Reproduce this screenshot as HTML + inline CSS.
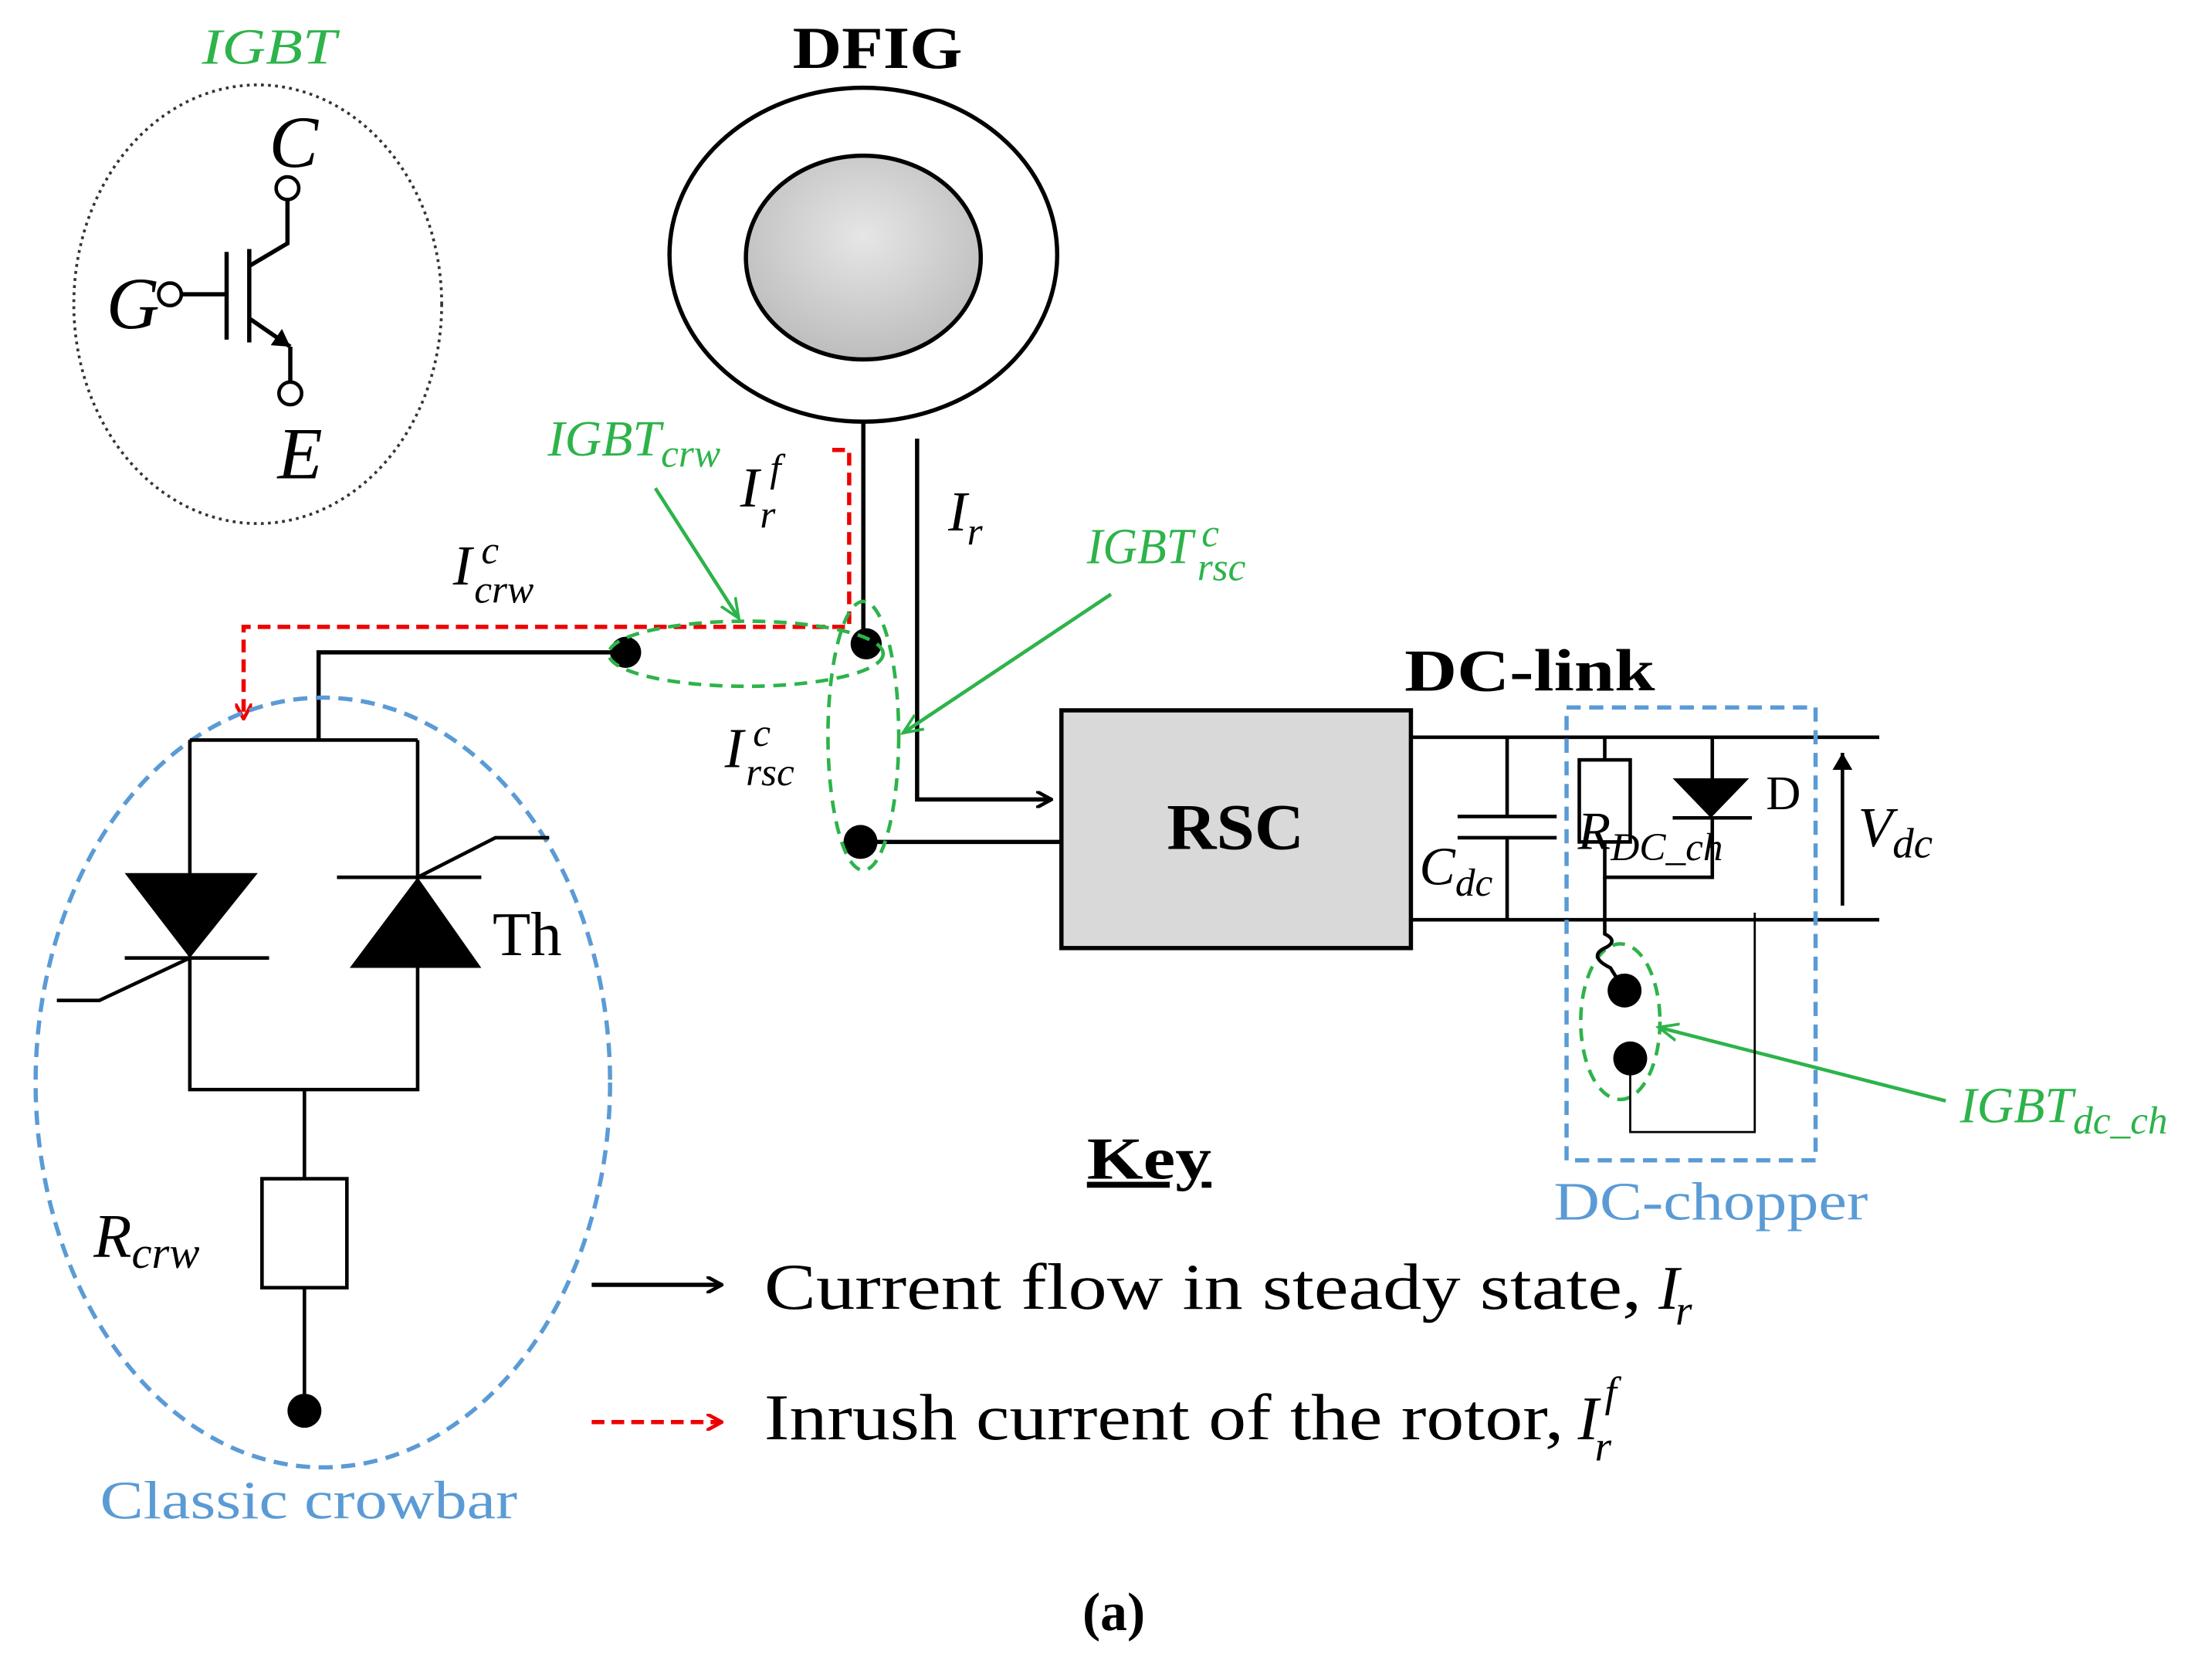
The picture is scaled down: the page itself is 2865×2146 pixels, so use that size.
<!DOCTYPE html>
<html><head><meta charset="utf-8"><style>
html,body{margin:0;padding:0;background:#fff}
svg{display:block}
text{font-family:"Liberation Serif",serif}
.it{font-style:italic}
</style></head><body>
<svg width="2865" height="2146" viewBox="0 0 1563 1171" xmlns="http://www.w3.org/2000/svg">
<defs>
<radialGradient id="g" cx="50%" cy="40%" r="60%"><stop offset="0" stop-color="#e6e6e6"/><stop offset="1" stop-color="#bdbdbd"/></radialGradient>
<marker id="ab" markerWidth="12" markerHeight="12" refX="11" refY="6" orient="auto" markerUnits="userSpaceOnUse"><path d="M0,0 L11,6 L0,12" fill="none" stroke="#000" stroke-width="2.5"/></marker>
<marker id="ar" markerWidth="12" markerHeight="12" refX="11" refY="6" orient="auto" markerUnits="userSpaceOnUse"><path d="M0,0 L11,6 L0,12" fill="none" stroke="#e00" stroke-width="2.5"/></marker>
<marker id="ag" markerWidth="16" markerHeight="16" refX="14" refY="8" orient="auto" markerUnits="userSpaceOnUse"><path d="M0,2 L14,8 L0,14" fill="none" stroke="#2db34a" stroke-width="2"/></marker>
<marker id="af" markerWidth="14" markerHeight="14" refX="12" refY="7" orient="auto" markerUnits="userSpaceOnUse"><path d="M0,0 L12,7 L0,14 Z" fill="#000"/></marker>
</defs>

<!-- IGBT symbol -->
<text x="190" y="45" font-size="36" fill="#2db34a" class="it" text-anchor="middle" textLength="95" lengthAdjust="spacingAndGlyphs">IGBT</text>
<ellipse cx="182" cy="215" rx="130" ry="155" fill="none" stroke="#333" stroke-width="2" stroke-dasharray="2,3"/>
<text x="190" y="118" font-size="52" class="it">C</text>
<text x="75" y="232" font-size="52" class="it">G</text>
<text x="196" y="338" font-size="52" class="it">E</text>
<g stroke="#000" stroke-width="3" fill="none">
<circle cx="203" cy="133" r="8" stroke-width="2.5"/>
<path d="M203,141 V172 L176,188"/>
<circle cx="120" cy="208" r="8" stroke-width="2.5"/>
<path d="M128,208 H160 M160,178 V240 M176,176 V242"/>
<path d="M176,225 L205,245" marker-end="url(#af)"/>
<path d="M205,245 V270"/>
<circle cx="205" cy="278" r="8" stroke-width="2.5"/>
</g>

<!-- DFIG -->
<text x="620" y="48" font-size="42" font-weight="bold" text-anchor="middle" textLength="120" lengthAdjust="spacingAndGlyphs">DFIG</text>
<ellipse cx="610" cy="180" rx="137" ry="118" fill="#fff" stroke="#000" stroke-width="3"/>
<ellipse cx="610" cy="182" rx="83" ry="72" fill="url(#g)" stroke="#000" stroke-width="3"/>

<g stroke="#000" stroke-width="3" fill="none">
<path d="M610,298 V455"/>
<path d="M648,310 V565 H743" marker-end="url(#ab)"/>
<path d="M442,461 H225 V523"/>
<path d="M608,595 H750"/>
</g>
<circle cx="612" cy="455" r="11"/>
<circle cx="442" cy="461" r="11"/>
<circle cx="608" cy="595" r="12"/>

<!-- red inrush -->
<path d="M588,318 H600 V443 H172 V508" fill="none" stroke="#e00" stroke-width="3" stroke-dasharray="9,5" marker-end="url(#ar)"/>

<!-- green ellipses and arrows -->
<g fill="none" stroke="#2db34a" stroke-width="2.5" stroke-dasharray="9,6">
<ellipse cx="527" cy="462" rx="97" ry="23"/>
<ellipse cx="610" cy="520" rx="25" ry="95"/>
<ellipse cx="1145" cy="722" rx="28" ry="55"/>
</g>
<g stroke="#2db34a" stroke-width="2.5" fill="none">
<path d="M463,345 L522,437" marker-end="url(#ag)"/>
<path d="M785,420 L638,518" marker-end="url(#ag)"/>
<path d="M1375,778 L1172,726" marker-end="url(#ag)"/>
</g>

<!-- RSC -->
<rect x="750" y="502" width="247" height="168" fill="#d9d9d9" stroke="#000" stroke-width="3"/>
<text x="873" y="600" font-size="46" font-weight="bold" text-anchor="middle" textLength="97" lengthAdjust="spacingAndGlyphs">RSC</text>
<text x="1081" y="488" font-size="42" font-weight="bold" text-anchor="middle" textLength="177" lengthAdjust="spacingAndGlyphs">DC-link</text>

<g stroke="#000" stroke-width="2.5" fill="none">
<path d="M997,521 H1328 M997,650 H1328"/>
<path d="M1065,521 V577 M1030,577 H1100 M1030,592 H1100 M1065,592 V650"/>
<rect x="1116" y="537" width="36" height="58"/>
<path d="M1134,521 V537 M1134,595 V620 H1210 V578 M1210,521 V550"/>
<path d="M1182,578 H1238"/>
<path d="M1134,620 V660 q10,5 0,10 q-12,6 4,14 L1148,700"/>
<path d="M1152,748 V800 H1240 V645" stroke-width="1.5"/>
</g>
<path d="M1182,550 H1236 L1209,578 Z" fill="#000"/>
<circle cx="1148" cy="700" r="12"/>
<circle cx="1152" cy="748" r="12"/>
<path d="M1302,640 V532" stroke="#000" stroke-width="2.5" marker-end="url(#af)"/>
<rect x="1107" y="500" width="176" height="320" fill="none" stroke="#5b9bd5" stroke-width="3" stroke-dasharray="10,6"/>
<text x="1209" y="862" font-size="38" fill="#5b9bd5" text-anchor="middle" textLength="222" lengthAdjust="spacingAndGlyphs">DC-chopper</text>
<text x="1248" y="572" font-size="34">D</text>

<!-- labels -->
<text x="1003" y="625" font-size="38" class="it">C<tspan font-size="28" dy="8">dc</tspan></text>
<text x="1115" y="600" font-size="38" class="it">R<tspan font-size="28" dy="8">DC_ch</tspan></text>
<text x="1313" y="598" font-size="40" class="it">V<tspan font-size="30" dy="8">dc</tspan></text>
<text x="387" y="322" font-size="36" class="it" fill="#2db34a">IGBT<tspan font-size="28" dy="8">crw</tspan></text>

<text x="523" y="358" font-size="40" class="it">I</text>
<text x="537" y="373" font-size="28" class="it">r</text>
<text x="544" y="340" font-size="28" class="it">f</text>

<text x="670" y="375" font-size="40" class="it">I<tspan font-size="28" dy="10">r</tspan></text>

<text x="320" y="413" font-size="40" class="it">I</text>
<text x="335" y="426" font-size="28" class="it">crw</text>
<text x="340" y="398" font-size="28" class="it">c</text>

<text x="768" y="398" font-size="36" class="it" fill="#2db34a" textLength="75" lengthAdjust="spacingAndGlyphs">IGBT</text>
<text x="846" y="410" font-size="28" class="it" fill="#2db34a">rsc</text>
<text x="849" y="386" font-size="28" class="it" fill="#2db34a">c</text>

<text x="512" y="542" font-size="40" class="it">I</text>
<text x="527" y="555" font-size="28" class="it">rsc</text>
<text x="532" y="527" font-size="28" class="it">c</text>

<text x="1385" y="793" font-size="36" class="it" fill="#2db34a">IGBT<tspan font-size="28" dy="8">dc_ch</tspan></text>

<!-- crowbar -->
<ellipse cx="228" cy="765" rx="203" ry="272" fill="none" stroke="#5b9bd5" stroke-width="3" stroke-dasharray="10,6"/>
<g stroke="#000" stroke-width="2.5" fill="none">
<path d="M134,523 H295 M134,523 V770 H295 V523"/>
<path d="M88,677 H190 M134,677 L70,707 H40"/>
<path d="M238,620 H340 M295,620 L350,592 H388"/>
<path d="M215,770 V833 M215,910 V995"/>
<rect x="185" y="833" width="60" height="77" fill="#fff"/>
</g>
<path d="M88,617 H182 L134,677 Z" fill="#000"/>
<path d="M247,684 H340 L295,620 Z" fill="#000"/>
<circle cx="215" cy="997" r="12"/>
<text x="348" y="675" font-size="44">Th</text>
<text x="66" y="888" font-size="44" class="it">R<tspan font-size="32" dy="8">crw</tspan></text>
<text x="218" y="1073" font-size="38" fill="#5b9bd5" text-anchor="middle" textLength="295" lengthAdjust="spacingAndGlyphs">Classic crowbar</text>

<!-- key -->
<text x="812" y="833" font-size="42" font-weight="bold" text-anchor="middle" text-decoration="underline" textLength="88" lengthAdjust="spacingAndGlyphs">Key</text>
<path d="M418,908 H510" stroke="#000" stroke-width="3" marker-end="url(#ab)"/>
<path d="M418,1005 H510" stroke="#e00" stroke-width="3" stroke-dasharray="9,5" marker-end="url(#ar)"/>
<text x="540" y="925" font-size="46" textLength="620" lengthAdjust="spacingAndGlyphs">Current flow in steady state,</text>
<text x="1172" y="925" font-size="44" class="it">I</text>
<text x="1184" y="936" font-size="30" class="it">r</text>
<text x="540" y="1017" font-size="46" textLength="565" lengthAdjust="spacingAndGlyphs">Inrush current of the rotor,</text>
<text x="1115" y="1017" font-size="44" class="it">I</text>
<text x="1127" y="1032" font-size="30" class="it">r</text>
<text x="1134" y="994" font-size="30" class="it">f</text>

<text x="787" y="1152" font-size="38" font-weight="bold" text-anchor="middle">(a)</text>
</svg>
</body></html>
